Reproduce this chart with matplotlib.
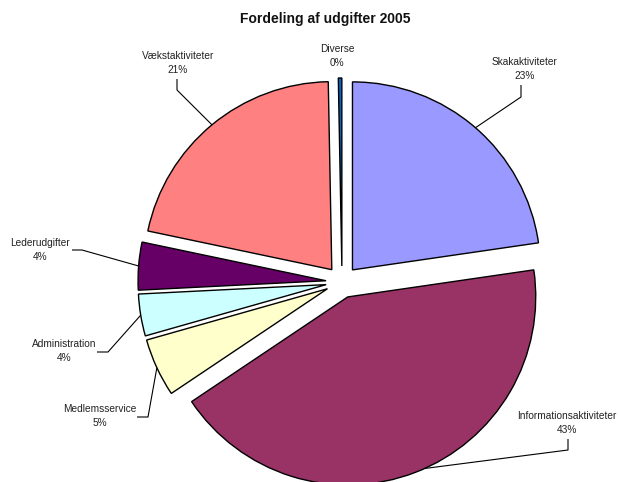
import matplotlib
matplotlib.use("Agg")
import matplotlib.pyplot as plt
import numpy as np

plt.rcParams['font.family'] = ['Liberation Sans', 'DejaVu Sans']

title = "Fordeling af udgifter 2005"
categories = ["Skakaktiviteter", "Informationsaktiviteter", "Medlemsservice",
              "Administration", "Lederudgifter", "Vækstaktiviteter", "Diverse"]
values = [22.7, 42.9, 5.0, 3.6, 4.1, 21.4, 0.3]
pct_labels = ["23%", "43%", "5%", "4%", "4%", "21%", "0%"]
colors = ["#9999FF", "#993366", "#FFFFCC", "#CCFFFF", "#660066", "#FF8080", "#0066CC"]

W, H = 618, 482
fig = plt.figure(figsize=(W / 100, H / 100), dpi=100)
ax = fig.add_axes([0, 0, 1, 1])

R = 188
cx, cy = 342, H - 282
wedges, _ = ax.pie(values, colors=colors, startangle=90, counterclock=False,
                   explode=[16] * len(values), radius=R, center=(cx, cy),
                   wedgeprops=dict(edgecolor='black', linewidth=1.0))
for w in wedges:
    w.set_clip_on(False)

ax.set_xlim(0, W)
ax.set_ylim(0, H)
ax.set_aspect('equal')
ax.axis('off')

# label layout (screen px: x, y from top), leader elbows, attach fraction along arc
label_pos = [(525, 69), (567, 423), (100, 416), (64, 351), (40, 250), (178, 63), (337, 56)]
leaders = [[(521, 85), (521, 97)], [(568, 439), (568, 450)], [(137, 417), (148, 417)],
           [(97, 352), (108, 352)], [(72, 250), (82, 250)], [(177, 79), (177, 90)], None]
attach_frac = [0.5, 0.52, 0.5, 0.5, 0.5, 0.5, 0.5]

for i, w in enumerate(wedges):
    lx, ly = label_pos[i]
    ax.text(lx, H - ly, f"{categories[i]}\n{pct_labels[i]}", ha='center', va='center',
            fontsize=7.3, color='#222222', linespacing=1.4)
    if leaders[i] is None:
        continue
    th = np.deg2rad(w.theta1 + attach_frac[i] * (w.theta2 - w.theta1))
    wx, wy = w.center
    ax_pt = (wx + w.r * np.cos(th), wy + w.r * np.sin(th))
    pts = [(x, H - y) for x, y in leaders[i]] + [ax_pt]
    xs, ys = zip(*pts)
    ax.plot(xs, ys, color='black', linewidth=0.8, solid_capstyle='butt')

fig.text(325 / W, 1 - 19 / H, title, ha='center', va='center', fontsize=10,
         fontweight='bold', color='#111111')

fig.savefig("out.png", dpi=100)
